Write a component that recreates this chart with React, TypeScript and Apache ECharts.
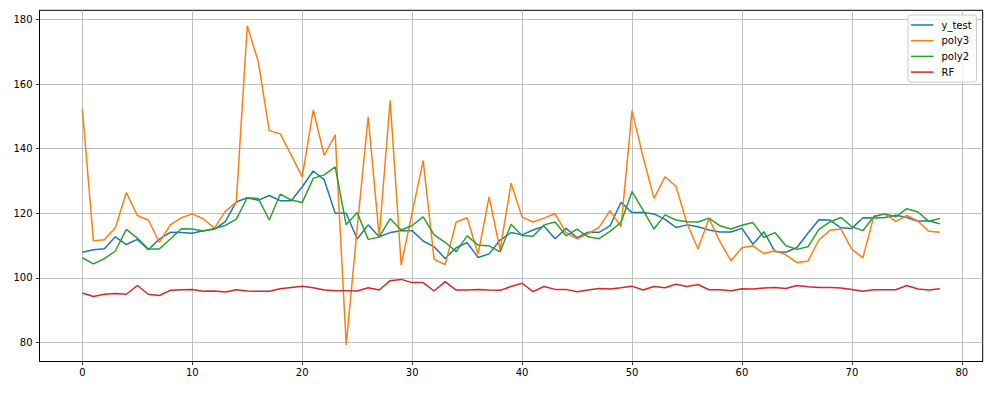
import React, { useEffect, useRef } from "react";
import * as echarts from "echarts";

const seriesNames = ["y_test", "poly3", "poly2", "RF"];
const seriesColors = ["#1f77b4", "#ff7f0e", "#2ca02c", "#d62728"];

const yTest = [
  107.9, 108.7, 109.0, 112.7, 110.3, 111.9, 108.7, 112.0, 114.1, 114.0,
  113.8, 114.6, 115.0, 117.4, 123.5, 124.8, 124.0, 125.5, 123.9, 123.9,
  128.2, 133.1, 130.4, 120.0, 120.0, 112.0, 116.4, 112.7, 114.0, 114.6,
  114.6, 111.4, 109.6, 106.0, 109.3, 110.9, 106.3, 107.4, 111.7, 114.0,
  113.3, 114.8, 116.0, 112.1, 115.3, 112.4, 114.1, 114.1, 116.1, 123.4,
  120.2, 120.2, 119.8, 118.1, 115.6, 116.4, 115.8, 114.8, 114.2, 114.2,
  115.3, 110.4, 114.3, 108.1, 107.9, 109.4, 113.8, 118.0, 117.9, 115.5,
  115.3, 118.6, 118.5, 118.7, 119.4, 118.7, 117.5, 117.7, 116.7,
];

const poly3 = [
  152.4, 111.5, 111.8, 115.5, 126.4, 119.3, 117.9, 111.0, 116.4, 118.6,
  119.8, 118.3, 115.4, 120.6, 123.4, 178.1, 167.0, 145.6, 144.6, 138.0,
  131.3, 152.0, 137.9, 144.3, 79.2, 115.5, 149.9, 112.8, 154.9, 104.0,
  120.2, 136.3, 105.7, 104.1, 117.2, 118.6, 107.3, 125.1, 108.6, 129.3,
  118.8, 117.3, 118.5, 119.9, 114.0, 112.1, 113.6, 115.6, 120.8, 115.8,
  151.8, 137.5, 124.6, 131.3, 128.3, 116.9, 108.9, 118.4, 111.2, 105.3,
  109.3, 109.9, 107.5, 108.4, 107.1, 104.7, 105.1, 111.7, 114.7, 115.1,
  108.8, 106.2, 119.1, 119.8, 117.5, 119.3, 117.6, 114.4, 114.1,
];

const poly2 = [
  106.2, 104.3, 105.9, 108.3, 115.0, 112.3, 108.9, 108.9, 112.0, 115.2,
  115.1, 114.5, 115.3, 116.2, 118.2, 124.8, 124.6, 117.9, 125.9, 124.1,
  123.3, 130.8, 131.9, 134.4, 116.4, 120.2, 111.9, 112.6, 118.3, 114.8,
  116.2, 118.9, 113.3, 111.0, 108.1, 113.0, 110.1, 109.9, 108.0, 116.6,
  113.1, 112.9, 116.4, 117.3, 113.0, 115.1, 112.7, 112.1, 114.4, 117.2,
  126.7, 121.0, 115.1, 119.5, 117.9, 117.4, 117.3, 118.5, 116.1, 115.1,
  116.3, 117.1, 112.5, 114.0, 109.9, 108.8, 109.6, 115.0, 117.3, 118.7,
  115.8, 114.6, 119.0, 119.8, 118.9, 121.4, 120.4, 117.5, 118.4,
];

const rf = [
  95.3, 94.2, 94.9, 95.1, 94.9, 97.6, 94.9, 94.5, 96.1, 96.3,
  96.4, 95.8, 95.9, 95.6, 96.3, 95.9, 95.8, 95.8, 96.6, 97.0,
  97.4, 96.9, 96.2, 96.0, 96.0, 95.9, 96.9, 96.2, 99.1, 99.5,
  98.5, 98.5, 95.9, 98.8, 96.2, 96.2, 96.4, 96.2, 96.1, 97.3,
  98.3, 95.7, 97.3, 96.4, 96.4, 95.7, 96.2, 96.7, 96.5, 96.9,
  97.4, 96.2, 97.3, 96.9, 98.0, 97.3, 97.9, 96.3, 96.3, 96.0,
  96.6, 96.5, 96.8, 97.0, 96.7, 97.6, 97.2, 97.0, 97.0, 96.8,
  96.4, 95.8, 96.3, 96.3, 96.3, 97.6, 96.5, 96.2, 96.6,
];

const xTicks = [0, 10, 20, 30, 40, 50, 60, 70, 80];
const yTicks = [80, 100, 120, 140, 160, 180];

const allSeries = [yTest, poly3, poly2, rf];

export default function App() {
  const ref = useRef<HTMLDivElement>(null);

  useEffect(() => {
    if (!ref.current) return;
    const chart = echarts.init(ref.current, undefined, { renderer: "svg" });
    const font = "DejaVu Sans";
    const gridLine = { show: true, lineStyle: { color: "#b0b0b0", width: 0.8 } };
    const tick = { show: true, inside: false, length: 3.5, lineStyle: { color: "#000", width: 0.8 } };

    chart.setOption({
      animation: false,
      backgroundColor: "#fff",
      grid: {
        left: 39.5,
        right: 23.3,
        top: 10.3,
        bottom: 33.5,
        show: true,
        borderColor: "#000",
        borderWidth: 1,
      },
      legend: {
        data: seriesNames,
        orient: "vertical",
        left: 908,
        top: 15,
        padding: [4, 5, 4, 3],
        itemGap: 3.7,
        icon: "rect",
        itemWidth: 22.5,
        itemHeight: 1.5,
        backgroundColor: "rgba(255,255,255,0.8)",
        borderColor: "#cccccc",
        borderWidth: 1,
        borderRadius: 3,
        textStyle: {
          fontFamily: font,
          fontSize: 10,
          color: "#000",
          lineHeight: 12,
          padding: [0, 0, 0, 3],
        },
      },
      xAxis: {
        type: "value",
        min: -3.9,
        max: 81.9,
        axisLine: { show: true, onZero: false, lineStyle: { color: "#000", width: 1 } },
        axisTick: { ...tick, customValues: xTicks },
        axisLabel: {
          customValues: xTicks,
          fontFamily: font,
          fontSize: 10,
          color: "#000",
          margin: 6,
        },
        splitLine: gridLine,
      },
      yAxis: {
        type: "value",
        min: 74.05,
        max: 182.9,
        axisLine: { show: true, onZero: false, lineStyle: { color: "#000", width: 1 } },
        axisTick: { ...tick, customValues: yTicks },
        axisLabel: {
          customValues: yTicks,
          fontFamily: font,
          fontSize: 10,
          color: "#000",
          margin: 7,
        },
        splitLine: gridLine,
      },
      series: allSeries.map((arr, k) => ({
        name: seriesNames[k],
        type: "line",
        data: arr.map((v, i) => [i, v]),
        showSymbol: false,
        symbol: "none",
        color: seriesColors[k],
        lineStyle: { width: 1.5, color: seriesColors[k] },
        z: 2 + k,
      })),
    });

    return () => {
      chart.dispose();
    };
  }, []);

  return (
    <div
      ref={ref}
      style={{ position: "absolute", left: 0, top: 0, width: 1006, height: 395 }}
    />
  );
}
